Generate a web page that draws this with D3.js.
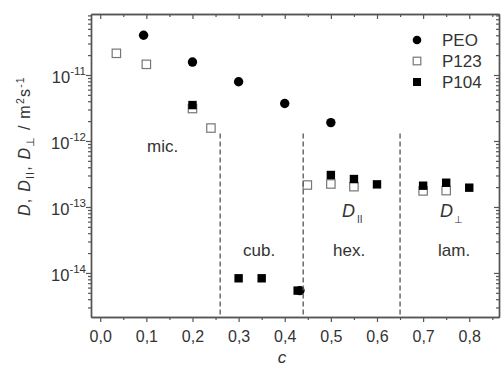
<!DOCTYPE html>
<html><head><meta charset="utf-8">
<script src="https://cdn.jsdelivr.net/npm/d3@7"></script>
<style>
body{margin:0;background:#fff}
svg{display:block}
text{font-family:Arial,"Liberation Sans",sans-serif;fill:#333}
</style>
</head><body>
<svg id="chart" width="504" height="368"></svg>
<script>
// ---- data ----
const xTickValues = [0, 0.1, 0.2, 0.3, 0.4, 0.5, 0.6, 0.7, 0.8];
const xTickLabels = ["0,0", "0,1", "0,2", "0,3", "0,4", "0,5", "0,6", "0,7", "0,8"];
const xMinorValues = [0.05, 0.15, 0.25, 0.35, 0.45, 0.55, 0.65, 0.75, 0.85];
const yTickValues = [1e-14, 1e-13, 1e-12, 1e-11];
const yTickExponents = ["-14", "-13", "-12", "-11"];

const peoC = [0.094, 0.2, 0.3, 0.4, 0.5, 0.433];
const peoD = [4.0e-11, 1.57e-11, 7.9e-12, 3.7e-12, 1.9e-12, 5.4e-15];

const p123C = [0.035, 0.1, 0.2, 0.24, 0.449, 0.5, 0.55, 0.7, 0.75];
const p123D = [2.13e-11, 1.45e-11, 3.1e-12, 1.57e-12, 2.15e-13, 2.23e-13, 2.03e-13, 1.75e-13, 1.77e-13];

const p104C = [0.2, 0.3, 0.35, 0.428, 0.5, 0.55, 0.6, 0.7, 0.75, 0.8];
const p104D = [3.5e-12, 8.3e-15, 8.3e-15, 5.4e-15, 3.05e-13, 2.65e-13, 2.2e-13, 2.1e-13, 2.33e-13, 1.96e-13];

const phaseBounds = [0.26, 0.44, 0.65];
const phaseBoundTop = 1.3e-12;
const phaseNames = ["mic.", "cub.", "hex.", "lam."];
const legendNames = ["PEO", "P123", "P104"];

// ---- layout ----
const svg = d3.select("#chart");
const L = 91, R = 499, T = 14, B = 317;
const x = d3.scaleLinear().domain([-0.02, 0.8645]).range([L, R]);
const y = d3.scaleLog().domain([2.15e-15, 8.4e-11]).range([B, T]);
const axisCol = "#555";

const yMinor = [];
for (let k = -15; k <= -11; k++) for (let m = 2; m <= 9; m++) {
  const v = m * Math.pow(10, k);
  if (v >= y.domain()[0] && v <= y.domain()[1]) yMinor.push(v);
}

function styleAxis(g) {
  g.select(".domain").attr("stroke", axisCol).attr("stroke-width", 1.4);
  g.selectAll(".tick line").attr("stroke", axisCol).attr("stroke-width", 1.2);
  g.selectAll(".tick text").attr("fill", "#333");
  g.attr("font-family", "Arial, 'Liberation Sans', sans-serif");
}

// bottom axis
svg.append("g").attr("transform", `translate(0,${B})`)
  .call(d3.axisBottom(x).tickValues(xMinorValues).tickSize(3).tickSizeOuter(0).tickFormat(""))
  .call(styleAxis);
svg.append("g").attr("transform", `translate(0,${B})`)
  .call(d3.axisBottom(x).tickValues(xTickValues).tickSize(5).tickSizeOuter(0)
    .tickFormat((d, i) => xTickLabels[i]).tickPadding(9))
  .call(styleAxis)
  .selectAll(".tick text").attr("font-size", 16);
// top axis (ticks inward)
svg.append("g").attr("transform", `translate(0,${T})`)
  .call(d3.axisBottom(x).tickValues(xMinorValues).tickSize(3).tickSizeOuter(0).tickFormat(""))
  .call(styleAxis);
svg.append("g").attr("transform", `translate(0,${T})`)
  .call(d3.axisBottom(x).tickValues(xTickValues).tickSize(5).tickSizeOuter(0).tickFormat(""))
  .call(styleAxis);
// left axis
svg.append("g").attr("transform", `translate(${L},0)`)
  .call(d3.axisLeft(y).tickValues(yMinor).tickSize(3).tickSizeOuter(0).tickFormat(""))
  .call(styleAxis);
const yl = svg.append("g").attr("transform", `translate(${L},0)`)
  .call(d3.axisLeft(y).tickValues(yTickValues).tickSize(5).tickSizeOuter(0).tickFormat(""))
  .call(styleAxis);
yl.selectAll(".tick").each(function(d, i) {
  const t = d3.select(this).append("text").attr("x", -5).attr("y", 8)
    .attr("text-anchor", "end").attr("font-size", 16.5).attr("fill", "#333");
  t.append("tspan").text("10");
  t.append("tspan").attr("dy", -8).attr("font-size", 11.5).text(yTickExponents[i]);
});
// right axis (ticks inward)
svg.append("g").attr("transform", `translate(${R},0)`)
  .call(d3.axisLeft(y).tickValues(yMinor).tickSize(3).tickSizeOuter(0).tickFormat(""))
  .call(styleAxis);
svg.append("g").attr("transform", `translate(${R},0)`)
  .call(d3.axisLeft(y).tickValues(yTickValues).tickSize(5).tickSizeOuter(0).tickFormat(""))
  .call(styleAxis);

// markers
const sq = 8.4;
svg.append("g").selectAll("rect").data(p123C.map((c, i) => [c, p123D[i]])).join("rect")
  .attr("x", d => x(d[0]) - sq / 2).attr("y", d => y(d[1]) - sq / 2)
  .attr("width", sq).attr("height", sq)
  .attr("fill", "#fff").attr("stroke", "#777").attr("stroke-width", 1.2);
svg.append("g").selectAll("rect").data(p104C.map((c, i) => [c, p104D[i]])).join("rect")
  .attr("x", d => x(d[0]) - sq / 2).attr("y", d => y(d[1]) - sq / 2)
  .attr("width", sq).attr("height", sq).attr("fill", "#000");
svg.append("g").selectAll("circle").data(peoC.map((c, i) => [c, peoD[i]])).join("circle")
  .attr("cx", d => x(d[0])).attr("cy", d => y(d[1])).attr("r", 4.7).attr("fill", "#000");

// phase boundaries (drawn over the markers, as in the reference)
svg.append("g").selectAll("line").data(phaseBounds).join("line")
  .attr("x1", d => x(d)).attr("x2", d => x(d))
  .attr("y1", y(phaseBoundTop)).attr("y2", B)
  .attr("stroke", axisCol).attr("stroke-width", 1.3).attr("stroke-dasharray", "5,3");

// phase labels
const phasePos = [[147, 152], [243, 256], [333, 256], [438, 256]];
svg.append("g").selectAll("text").data(phaseNames).join("text")
  .attr("x", (d, i) => phasePos[i][0]).attr("y", (d, i) => phasePos[i][1])
  .attr("font-size", 17).text(d => d);

// D labels
const dpar = svg.append("text").attr("x", 342).attr("y", 217).attr("font-size", 18);
dpar.append("tspan").attr("font-style", "italic").text("D");
dpar.append("tspan").attr("font-size", 10).attr("dx", 2).attr("dy", 6).text("II");
const dperp = svg.append("text").attr("x", 440).attr("y", 217).attr("font-size", 18);
dperp.append("tspan").attr("font-style", "italic").text("D");
dperp.append("tspan").attr("font-size", 10).attr("dx", 1).attr("dy", 6).text("⊥");

// legend
const lg = svg.append("g");
const lx = 417, ly = [40, 61, 82];
lg.append("circle").attr("cx", lx).attr("cy", ly[0]).attr("r", 4.3).attr("fill", "#000");
lg.append("rect").attr("x", lx - 3.8).attr("y", ly[1] - 3.8).attr("width", 7.6).attr("height", 7.6)
  .attr("fill", "#fff").attr("stroke", "#777").attr("stroke-width", 1.2);
lg.append("rect").attr("x", lx - 4).attr("y", ly[2] - 4).attr("width", 8).attr("height", 8).attr("fill", "#000");
lg.selectAll("text").data(legendNames).join("text")
  .attr("x", 442).attr("y", (d, i) => ly[i] + 6).attr("font-size", 17).text(d => d);

// axis titles
svg.append("text").attr("x", 282).attr("y", 363).attr("text-anchor", "middle")
  .attr("font-size", 17).attr("font-style", "italic").text("c");
const yt = svg.append("text").attr("transform", "translate(30,146) rotate(-90)")
  .attr("text-anchor", "middle").attr("font-size", 16).attr("letter-spacing", 1.2);
yt.append("tspan").attr("font-style", "italic").text("D");
yt.append("tspan").text(", ");
yt.append("tspan").attr("font-style", "italic").text("D");
yt.append("tspan").attr("font-size", 10.5).attr("dy", 4).text("II");
yt.append("tspan").attr("dy", -4).text(", ");
yt.append("tspan").attr("font-style", "italic").text("D");
yt.append("tspan").attr("font-size", 10.5).attr("dy", 4).text("⊥");
yt.append("tspan").attr("dy", -4).text(" / m");
yt.append("tspan").attr("font-size", 10.5).attr("dy", -6).text("2");
yt.append("tspan").attr("dy", 6).text("s");
yt.append("tspan").attr("font-size", 10.5).attr("dy", -6).text("-1");
</script>
</body></html>
